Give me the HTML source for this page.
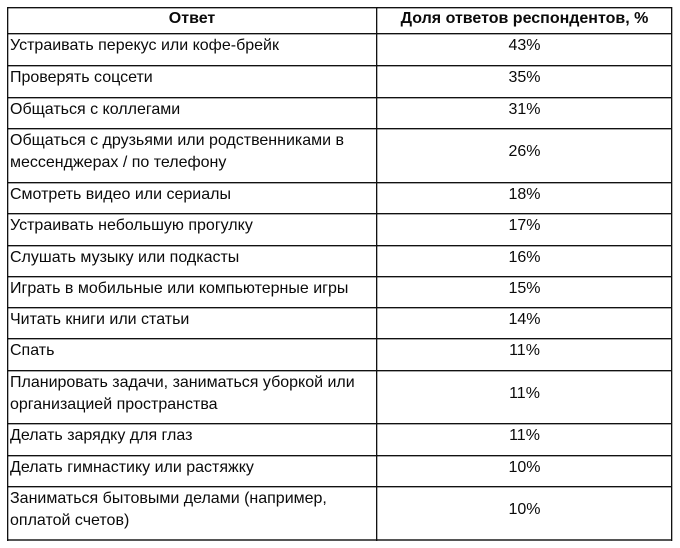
<!DOCTYPE html>
<html>
<head>
<meta charset="utf-8">
<style>
html,body{margin:0;padding:0;background:#fff;}
#c{position:relative;width:680px;height:548px;overflow:hidden;background:#fff;font-family:"Liberation Sans",Arial,"Noto Sans CJK SC",sans-serif;font-size:16px;color:#0a0a0a;}
.h{position:absolute;left:7px;width:665px;height:1px;background:#111;box-shadow:0 1px 0 rgba(0,0,0,0.35);}
.v{position:absolute;top:7px;height:534px;width:1px;background:#111;box-shadow:1px 0 0 rgba(0,0,0,0.3);}
.t{position:absolute;left:10px;width:366px;line-height:22px;white-space:nowrap;margin-top:1px;}
.p{position:absolute;left:377px;width:295px;text-align:center;line-height:22px;margin-top:1px;}
.b{font-weight:bold;}
</style>
</head>
<body>
<div id="c">
<div class="h" style="top:7px"></div>
<div class="h" style="top:33px"></div>
<div class="h" style="top:65px"></div>
<div class="h" style="top:97px"></div>
<div class="h" style="top:128px"></div>
<div class="h" style="top:182px"></div>
<div class="h" style="top:213px"></div>
<div class="h" style="top:245px"></div>
<div class="h" style="top:276px"></div>
<div class="h" style="top:307px"></div>
<div class="h" style="top:338px"></div>
<div class="h" style="top:370px"></div>
<div class="h" style="top:423px"></div>
<div class="h" style="top:455px"></div>
<div class="h" style="top:486px"></div>
<div class="h" style="top:539px;height:2px;background:#555;box-shadow:none"></div>
<div class="v" style="left:7px"></div>
<div class="v" style="left:376px"></div>
<div class="v" style="left:671px"></div>

<div class="t b" style="top:7px;left:7px;width:370px;text-align:center">Ответ</div>
<div class="p b" style="top:7px">Доля ответов респондентов, %</div>

<div class="t" style="top:34px">Устраивать перекус или кофе-брейк</div>
<div class="p" style="top:34px">43%</div>

<div class="t" style="top:66px">Проверять соцсети</div>
<div class="p" style="top:66px">35%</div>

<div class="t" style="top:98px">Общаться с коллегами</div>
<div class="p" style="top:98px">31%</div>

<div class="t" style="top:129px">Общаться с друзьями или родственниками в<br>мессенджерах / по телефону</div>
<div class="p" style="top:140px">26%</div>

<div class="t" style="top:183px">Смотреть видео или сериалы</div>
<div class="p" style="top:183px">18%</div>

<div class="t" style="top:214px">Устраивать небольшую прогулку</div>
<div class="p" style="top:214px">17%</div>

<div class="t" style="top:246px">Слушать музыку или подкасты</div>
<div class="p" style="top:246px">16%</div>

<div class="t" style="top:277px">Играть в мобильные или компьютерные игры</div>
<div class="p" style="top:277px">15%</div>

<div class="t" style="top:308px">Читать книги или статьи</div>
<div class="p" style="top:308px">14%</div>

<div class="t" style="top:339px">Спать</div>
<div class="p" style="top:339px">11%</div>

<div class="t" style="top:371px">Планировать задачи, заниматься уборкой или<br>организацией пространства</div>
<div class="p" style="top:382px">11%</div>

<div class="t" style="top:424px">Делать зарядку для глаз</div>
<div class="p" style="top:424px">11%</div>

<div class="t" style="top:456px">Делать гимнастику или растяжку</div>
<div class="p" style="top:456px">10%</div>

<div class="t" style="top:487px">Заниматься бытовыми делами (например,<br>оплатой счетов)</div>
<div class="p" style="top:498px">10%</div>
</div>
</body>
</html>
